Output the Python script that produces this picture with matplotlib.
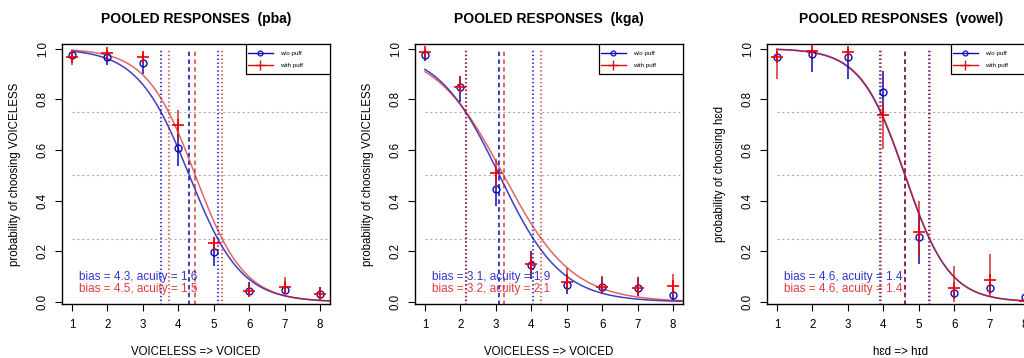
import numpy as np
import matplotlib.pyplot as plt
from matplotlib.patches import Rectangle

plt.rcParams['font.family'] = ['Liberation Sans', 'DejaVu Sans']
plt.rcParams['lines.scale_dashes'] = False

# pasos del continuo
pasos = [1, 2, 3, 4, 5, 6, 7, 8]

titulos = ['POOLED RESPONSES  (pba)', 'POOLED RESPONSES  (kga)', 'POOLED RESPONSES  (vowel)']
etiquetas_y = ['probability of choosing VOICELESS', 'probability of choosing VOICELESS',
               'probability of choosing hɛd']
etiquetas_x = ['VOICELESS => VOICED', 'VOICELESS => VOICED', 'hɛd => hɪd']

# w/o puff (azul): proporcion y barras de error
sin_p = [[0.976, 0.967, 0.943, 0.608, 0.196, 0.043, 0.047, 0.031],
         [0.975, 0.847, 0.444, 0.145, 0.067, 0.060, 0.054, 0.026],
         [0.966, 0.980, 0.966, 0.830, 0.255, 0.034, 0.054, 0.020]]
sin_lo = [[0.955, 0.934, 0.900, 0.536, 0.143, 0.030, 0.034, 0.015],
          [0.950, 0.790, 0.380, 0.090, 0.030, 0.030, 0.024, 0.008],
          [0.955, 0.906, 0.880, 0.745, 0.148, 0.013, 0.030, 0.007]]
sin_hi = [[0.990, 0.990, 0.955, 0.661, 0.231, 0.080, 0.074, 0.060],
          [0.995, 0.890, 0.507, 0.200, 0.110, 0.100, 0.097, 0.050],
          [0.980, 1.000, 1.000, 0.913, 0.342, 0.060, 0.080, 0.087]]

# with puff (rojo)
con_p = [[0.966, 0.983, 0.967, 0.698, 0.231, 0.045, 0.060, 0.031],
         [0.985, 0.847, 0.507, 0.150, 0.079, 0.060, 0.054, 0.065],
         [0.966, 0.990, 0.985, 0.738, 0.275, 0.054, 0.085, 0.004]]
con_lo = [[0.934, 0.967, 0.945, 0.639, 0.198, 0.028, 0.034, 0.010],
          [0.970, 0.830, 0.454, 0.111, 0.044, 0.030, 0.024, 0.024],
          [0.880, 0.975, 0.960, 0.604, 0.180, 0.000, 0.020, 0.000]]
con_hi = [[0.993, 0.996, 0.984, 0.757, 0.251, 0.067, 0.100, 0.060],
          [0.996, 0.890, 0.566, 0.202, 0.136, 0.103, 0.097, 0.110],
          [1.000, 1.000, 1.000, 0.785, 0.400, 0.141, 0.188, 0.010]]

# parametros del ajuste logistico: [sin puff, con puff]
bias = [[4.31, 4.48], [3.10, 3.22], [4.61, 4.62]]
acuity = [[1.60, 1.51], [1.91, 2.12], [1.38, 1.37]]

azul = (0.05, 0.05, 0.72)
rojo = (0.82, 0.08, 0.08)

fig = plt.figure(figsize=(10.24, 3.58), dpi=100)
izquierdas = [62, 415, 767]

for i in range(3):
    ax = fig.add_axes([izquierdas[i] / 1024, 54 / 358, 268 / 1024, 260 / 358])
    ax.set_xlim(0.72, 8.28)
    ax.set_ylim(-0.008, 1.018)

    # lineas guia
    for h in [0.25, 0.5, 0.75]:
        ax.plot([1, 8.4], [h, h], color='#aaaaaa', lw=0.8, ls=(0, (1.5, 2.0)))

    xc = np.linspace(1, 8.4, 300)
    for j, col, alfa in [(0, azul, 0.8), (1, rojo, 0.65)]:
        b = bias[i][j]
        a = acuity[i][j]
        s = a / (2 * np.log(3))
        ax.plot(xc, 1 / (1 + np.exp((xc - b) / s)), color=col, alpha=alfa, lw=1.1)
        ax.vlines([b], -0.01, 1.0, colors=[col], alpha=alfa, lw=1.4, linestyles=[(0, (3.2, 2.4))])
        ax.vlines([b - a / 2, b + a / 2], -0.01, 1.0, colors=[col], alpha=alfa, lw=1.5,
                  linestyles=[(0, (1.0, 1.8))])

    # datos
    ax.vlines(pasos, sin_lo[i], sin_hi[i], colors=[azul], alpha=0.8, lw=1.4)
    ax.plot(pasos, sin_p[i], 'o', mfc='none', mec=azul, mew=1.0, ms=5)
    ax.vlines(pasos, con_lo[i], con_hi[i], colors=[rojo], alpha=0.7, lw=1.4)
    ax.plot(pasos, con_p[i], '+', color='#ee0000', mew=1.2, ms=9)

    ax.text(1.2, 0.097, 'bias = %.1f, acuity = %.1f' % (bias[i][0], acuity[i][0]),
            color='#3535cc', fontsize=8.5, va='center', ha='left')
    ax.text(1.2, 0.050, 'bias = %.1f, acuity = %.1f' % (bias[i][1], acuity[i][1]),
            color='#e03a3a', fontsize=8.5, va='center', ha='left')

    # leyenda
    ax.add_patch(Rectangle((0.687, 0.885), 0.313, 0.115, transform=ax.transAxes,
                           facecolor='white', edgecolor='black', lw=0.9, zorder=5))
    ax.plot([0.694, 0.787], [0.965, 0.965], color=azul, lw=1.0, transform=ax.transAxes, zorder=6)
    ax.plot([0.74], [0.965], 'o', mfc='none', mec=azul, ms=3.5, mew=0.9, transform=ax.transAxes, zorder=6)
    ax.plot([0.694, 0.787], [0.919, 0.919], color=rojo, lw=1.0, transform=ax.transAxes, zorder=6)
    ax.plot([0.74], [0.919], '+', color=rojo, ms=7, mew=1.0, transform=ax.transAxes, zorder=6)
    ax.text(0.813, 0.965, 'w/o puff', fontsize=4.5, va='center', transform=ax.transAxes, zorder=6)
    ax.text(0.813, 0.919, 'with puff', fontsize=4.5, va='center', transform=ax.transAxes, zorder=6)

    ax.set_xticks(pasos)
    ax.set_yticks([0.0, 0.2, 0.4, 0.6, 0.8, 1.0])
    ax.set_yticklabels(['0.0', '0.2', '0.4', '0.6', '0.8', '1.0'], rotation=90, va='center')
    ax.tick_params(direction='out', length=5, width=0.8, labelsize=8.3, color='black')
    ax.tick_params(axis='x', pad=5.5)
    ax.tick_params(axis='y', pad=4.5)
    for sp in ax.spines.values():
        sp.set_linewidth(1.0)

    ax.text(0.5, 1.096, titulos[i], transform=ax.transAxes, ha='center', va='center',
            fontsize=10, fontweight='bold')
    ax.text(-0.175, 0.5, etiquetas_y[i], transform=ax.transAxes, rotation=90,
            ha='center', va='center', fontsize=8.3)
    ax.text(0.5, -0.185, etiquetas_x[i], transform=ax.transAxes, ha='center', va='center',
            fontsize=8.3)

fig.savefig('out.png', dpi=100)
